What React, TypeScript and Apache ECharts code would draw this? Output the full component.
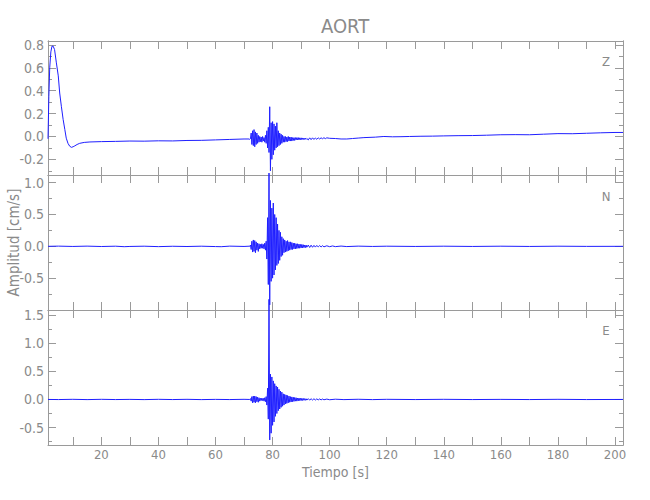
import React, { useEffect, useRef } from "react";
import * as echarts from "echarts";

// ---- data ----
const title = "AORT";
const components = ["Z", "N", "E"];
const xTickValues = [10, 20, 30, 40, 50, 60, 70, 80, 90, 100, 110, 120, 130, 140, 150, 160, 170, 180, 190, 200];
const xLabelValues = [20, 40, 60, 80, 100, 120, 140, 160, 180, 200];

const zMajor = [-0.2, 0.0, 0.2, 0.4, 0.6, 0.8];
const zMinor = [-0.3, -0.1, 0.1, 0.3, 0.5, 0.7];
const nMajor = [-0.5, 0.0, 0.5, 1.0];
const nMinor = [-0.75, -0.25, 0.25, 0.75];
const eMajor = [-0.5, 0.0, 0.5, 1.0, 1.5];
const eMinor = [-0.75, -0.25, 0.25, 0.75, 1.25];

// burst section sampled every 0.25 s starting at 72 s
const BURST_START = 72;
const BURST_STEP = 0.25;

const zSlow = [
  [1.3, -0.02], [1.6, 0.35], [1.9, 0.6], [2.3, 0.74], [2.7, 0.79], [3.1, 0.79], [3.6, 0.76],
  [4.2, 0.65], [4.9, 0.53], [5.4, 0.38], [6.0, 0.26], [6.6, 0.15], [7.2, 0.06], [7.7, -0.015],
  [8.3, -0.06], [8.9, -0.085], [9.5, -0.095], [10.1, -0.09], [10.7, -0.082], [11.5, -0.07],
  [12.4, -0.06], [14, -0.052], [16, -0.048], [20, -0.045], [25, -0.043], [30, -0.04],
  [35, -0.041], [40, -0.038], [45, -0.039], [50, -0.035], [55, -0.034], [60, -0.03],
  [65, -0.026], [70, -0.022], [71.75, -0.022],
];
const zBurst = [
  -0.025, -0.02, 0.03, -0.07, 0.05, -0.08, 0.06, -0.09, 0.04, -0.07, 0.03, -0.06, 0.01, -0.05, 0.0, -0.045,
  -0.005, -0.05, 0.0, -0.04, -0.01, -0.05, 0.01, -0.06, 0.05, -0.1, 0.08, -0.14, 0.26, -0.3, 0.12, -0.2,
  0.13, -0.16, 0.11, -0.12, 0.09, -0.1, 0.12, -0.09, 0.05, -0.08, 0.03, -0.07, 0.02, -0.06, 0.01, -0.05,
  0.0, -0.05, 0.0, -0.045, -0.005, -0.045, 0.0, -0.04, -0.005, -0.04, -0.005, -0.04, -0.01, -0.035, -0.01, -0.035,
  -0.01, -0.03, -0.01, -0.03, -0.01, -0.03, -0.012, -0.028, -0.012, -0.028, -0.013, -0.027, -0.014, -0.026, -0.015, -0.025,
  -0.018,
];
const zTail = [
  [92.5, -0.03], [93, -0.012], [93.5, -0.028], [94, -0.012], [94.5, -0.026], [95, -0.013], [95.5, -0.025],
  [96, -0.012], [96.5, -0.022], [97, -0.012], [97.5, -0.02], [98, -0.011], [98.5, -0.019], [99, -0.012],
  [100, -0.016], [102, -0.018], [104, -0.022], [106, -0.022], [108, -0.018], [110, -0.014], [112, -0.01],
  [116, -0.006], [119, 0.0], [122, -0.003], [125, -0.002], [128, 0.0], [132, 0.002], [136, 0.003],
  [140, 0.005], [145, 0.007], [150, 0.008], [155, 0.011], [160, 0.015], [165, 0.016], [170, 0.015],
  [175, 0.02], [180, 0.025], [185, 0.024], [190, 0.028], [195, 0.032], [200, 0.035], [202.8, 0.035],
];

const nSlow = [
  [1.3, 0.0], [5, 0.003], [10, -0.002], [15, 0.003], [20, -0.003], [25, 0.002], [28, -0.006], [30, -0.002],
  [35, 0.002], [40, -0.005], [45, 0.001], [50, -0.003], [55, 0.002], [60, -0.004], [62, -0.006],
  [65, 0.003], [70, -0.002], [71.75, 0.002],
];
const nBurst = [
  0.0, 0.02, -0.05, 0.08, -0.09, 0.1, -0.08, 0.09, -0.1, 0.07, -0.06, 0.05, -0.08, 0.04, -0.04, 0.03,
  -0.03, 0.04, -0.03, 0.03, -0.04, 0.05, -0.06, 0.08, -0.2, 0.45, -0.6, 1.15, -0.92, 0.72, -0.55, 0.6,
  -0.5, 0.68, -0.45, 0.5, -0.37, 0.45, -0.3, 0.35, -0.27, 0.25, -0.22, 0.22, -0.16, 0.15, -0.14, 0.12,
  -0.1, 0.1, -0.09, 0.08, -0.08, 0.09, -0.07, 0.07, -0.06, 0.07, -0.05, 0.06, -0.05, 0.05, -0.04, 0.05,
  -0.04, 0.04, -0.035, 0.04, -0.03, 0.035, -0.03, 0.03, -0.025, 0.03, -0.025, 0.025, -0.02, 0.02, -0.02, 0.02,
  -0.015,
];
const nTail = [
  [92.5, 0.02], [93, -0.018], [93.5, 0.018], [94, -0.015], [94.5, 0.015], [95, -0.012], [95.5, 0.014],
  [96, -0.01], [96.5, 0.012], [97, -0.01], [97.5, 0.01], [98, -0.008], [99, 0.008], [100, -0.006],
  [101, 0.006], [102, -0.005], [104, 0.004], [106, -0.004], [110, 0.003], [115, -0.002], [120, 0.002],
  [130, -0.002], [140, 0.002], [150, -0.002], [160, 0.002], [170, -0.002], [180, 0.002], [190, -0.001],
  [202.8, 0.0],
];

const eSlow = [
  [1.3, 0.0], [5, -0.002], [10, 0.002], [15, -0.003], [20, 0.002], [25, -0.002], [30, 0.001],
  [35, -0.003], [40, 0.002], [45, -0.002], [50, 0.002], [55, -0.003], [60, 0.001], [65, -0.002],
  [70, 0.002], [71.75, 0.0],
];
const eBurst = [
  0.0, 0.015, -0.03, 0.05, -0.06, 0.06, -0.05, 0.06, -0.06, 0.05, -0.04, 0.04, -0.05, 0.03, -0.03, 0.02,
  -0.02, 0.025, -0.02, 0.02, -0.03, 0.03, -0.04, 0.05, -0.1, 0.2, -0.35, 1.78, -0.72, 0.45, -0.6, 0.4,
  -0.46, 0.33, -0.4, 0.28, -0.3, 0.24, -0.25, 0.22, -0.2, 0.18, -0.17, 0.15, -0.14, 0.13, -0.12, 0.1,
  -0.1, 0.09, -0.08, 0.08, -0.07, 0.07, -0.06, 0.06, -0.05, 0.05, -0.045, 0.045, -0.04, 0.04, -0.035, 0.035,
  -0.03, 0.03, -0.03, 0.025, -0.025, 0.025, -0.02, 0.02, -0.02, 0.02, -0.018, 0.018, -0.015, 0.015, -0.015, 0.012,
  -0.012,
];
const eTail = [
  [92.5, 0.014], [93, -0.012], [93.5, 0.012], [94, -0.01], [94.5, 0.012], [95, -0.01], [95.5, 0.01],
  [96, -0.008], [96.5, 0.009], [97, -0.008], [97.5, 0.007], [98, -0.006], [99, 0.006], [100, -0.005],
  [102, 0.004], [105, -0.003], [110, 0.003], [115, -0.003], [120, 0.002], [130, -0.002], [140, 0.002],
  [150, -0.002], [160, 0.001], [170, -0.002], [180, 0.002], [190, -0.002], [202.8, 0.0],
];

// ---- layout / style ----
const X_MIN = 1.3;
const X_MAX = 202.8;
const GRIDS = [
  { top: 41, height: 134, min: -0.337, max: 0.835, major: zMajor, minor: zMinor },
  { top: 175, height: 135, min: -1.0, max: 1.12, major: nMajor, minor: nMinor },
  { top: 310, height: 135, min: -0.81, max: 1.59, major: eMajor, minor: eMinor },
];
const AXIS_COLOR = "#9a9a9a";
const TEXT_COLOR = "#8a8a8a";
const LINE_COLOR = "#1f1fff";
const FONT = '"Liberation Sans Narrow", "DejaVu Sans Condensed", "Roboto Condensed", "Liberation Sans", sans-serif';

function assemble(slow: number[][], burst: number[], tail: number[][]) {
  return [
    ...slow,
    ...burst.map((v, i) => [BURST_START + i * BURST_STEP, v]),
    ...tail,
  ];
}

export default function App() {
  const ref = useRef<HTMLDivElement>(null);
  useEffect(() => {
    if (!ref.current) return;
    const chart = echarts.init(ref.current, undefined, { renderer: "svg" });
    const seriesData = [
      assemble(zSlow, zBurst, zTail),
      assemble(nSlow, nBurst, nTail),
      assemble(eSlow, eBurst, eTail),
    ];

    const grid: any[] = [];
    const xAxis: any[] = [];
    const yAxis: any[] = [];
    const series: any[] = [];
    GRIDS.forEach((g, gi) => {
      grid.push({
        left: 48,
        right: 27,
        top: g.top,
        height: g.height,
        containLabel: false,
        outerBoundsMode: "none",
      });
      ["bottom", "top"].forEach((pos) => {
        const isLabelAxis = pos === "bottom" && gi === 2;
        xAxis.push({
          type: "value",
          gridIndex: gi,
          position: pos,
          min: X_MIN,
          max: X_MAX,
          axisLine: { show: true, onZero: false, lineStyle: { color: AXIS_COLOR, width: 1 } },
          axisTick: { show: true, inside: true, length: 8, customValues: xTickValues, lineStyle: { color: AXIS_COLOR } },
          axisLabel: {
            show: isLabelAxis,
            customValues: xLabelValues,
            color: TEXT_COLOR,
            fontFamily: FONT,
            fontSize: 13,
            margin: 3,
            formatter: (v: number) => String(v),
          },
          splitLine: { show: false },
          name: isLabelAxis ? "Tiempo [s]" : "",
          nameLocation: "middle",
          nameGap: 20,
          nameTextStyle: { color: TEXT_COLOR, fontFamily: FONT, fontSize: 14 },
        });
      });
      [
        { pos: "left", major: true },
        { pos: "left", major: false },
        { pos: "right", major: true },
        { pos: "right", major: false },
      ].forEach((a) => {
        const showLabel = a.pos === "left" && a.major;
        yAxis.push({
          type: "value",
          gridIndex: gi,
          position: a.pos,
          min: g.min,
          max: g.max,
          axisLine: { show: true, onZero: false, lineStyle: { color: AXIS_COLOR, width: 1 } },
          axisTick: {
            show: true,
            inside: true,
            length: a.major ? 8 : 4,
            customValues: a.major ? g.major : g.minor,
            lineStyle: { color: AXIS_COLOR },
          },
          axisLabel: {
            show: showLabel,
            customValues: g.major,
            color: TEXT_COLOR,
            fontFamily: FONT,
            fontSize: 14,
            margin: 4,
            formatter: (v: number) => v.toFixed(1),
          },
          splitLine: { show: false },
          name: showLabel && gi === 1 ? "Amplitud [cm/s]" : "",
          nameLocation: "middle",
          nameGap: 27,
          nameMoveOverlap: false,
          nameRotate: 90,
          nameTextStyle: { color: TEXT_COLOR, fontFamily: FONT, fontSize: 15 },
        });
      });
      series.push({
        type: "line",
        name: components[gi],
        xAxisIndex: gi * 2,
        yAxisIndex: gi * 4,
        data: seriesData[gi],
        showSymbol: false,
        symbol: "none",
        clip: false,
        lineStyle: { color: LINE_COLOR, width: 1 },
        itemStyle: { color: LINE_COLOR },
      });
    });

    const graphic = components.map((c, i) => ({
      type: "text",
      x: 606,
      y: [61, 196, 330][i],
      style: {
        text: c,
        fill: TEXT_COLOR,
        fontFamily: FONT,
        fontSize: 13,
        align: "center",
        verticalAlign: "middle",
      },
    }));

    chart.setOption({
      animation: false,
      backgroundColor: "#ffffff",
      title: {
        text: title,
        left: 316,
        top: 11,
        textStyle: { color: TEXT_COLOR, fontFamily: FONT, fontSize: 20, fontWeight: "normal" },
      },
      grid,
      xAxis,
      yAxis,
      series,
      graphic,
    });
    return () => chart.dispose();
  }, []);
  return <div ref={ref} style={{ position: "absolute", left: 0, top: 0, width: 650, height: 500 }} />;
}
